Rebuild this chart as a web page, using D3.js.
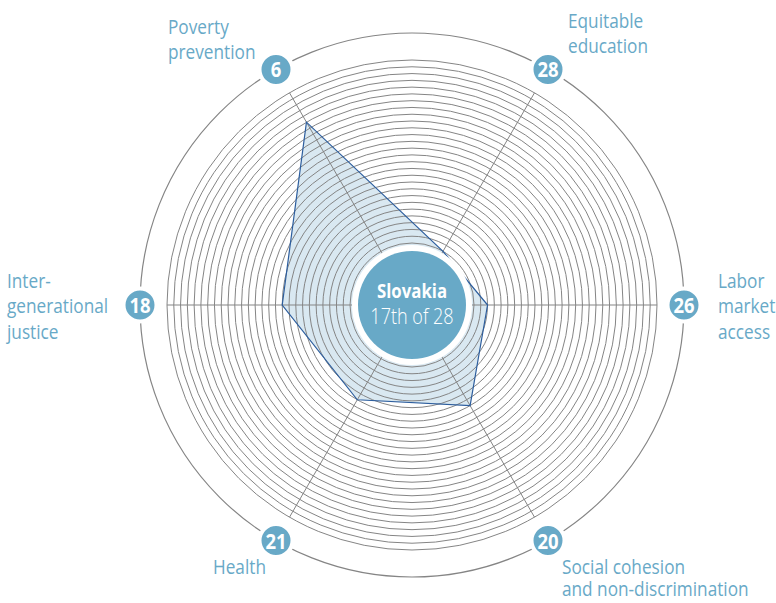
<!DOCTYPE html>
<html><head><meta charset="utf-8">
<script src="https://cdn.jsdelivr.net/npm/d3@7"></script>
<style>
html,body{margin:0;padding:0;background:#fff;}
svg{display:block;}
text{font-family:"Open Sans","Noto Sans",sans-serif;}
</style></head>
<body>
<svg id="chart" width="776" height="603"></svg>
<script>
// ---- data ----
const categories = ["Labor market access","Equitable education","Poverty prevention","Intergenerational justice","Health","Social cohesion and non-discrimination"];
const ranks = [26, 28, 6, 18, 21, 20];
const country = "Slovakia";
const overall = "17th of 28";
const totalCountries = 28;
const labelLines = [
  ["Labor","market","access"],
  ["Equitable","education"],
  ["Poverty","prevention"],
  ["Inter-","generational","justice"],
  ["Health"],
  ["Social cohesion","and non-discrimination"]
];
// ---- layout ----
const cx = 412, cy = 305;
const outerR = 272, innerR = 62, ringMaxR = 245, centerR = 54, whiteR = 60;
const angles = [0, -60, -120, 180, 120, 60];
const labelPos = [
  {x:718,y:288,lh:25.5},{x:568,y:28,lh:25.5},{x:168,y:34,lh:25.5},{x:7,y:288,lh:25.5},{x:213,y:574,lh:25},{x:562,y:574,lh:22.5}
];
const condense = 0.84;
const blue = "#68a9c7", ringCol = "#858585";

const svg = d3.select("#chart");
const g = svg.append("g").attr("transform",`translate(${cx},${cy})`);
const r = d3.scaleLinear().domain([totalCountries,1]).range([innerR,ringMaxR]);
const rad = a => a*Math.PI/180;

// polygon fill (beneath rings)
const pts = ranks.map((v,i)=>[r(v)*Math.cos(rad(angles[i])), r(v)*Math.sin(rad(angles[i]))]);
const line = d3.line().curve(d3.curveLinearClosed);
g.append("path").attr("d",line(pts)).attr("fill","#d9e8f1").attr("stroke","none");

// rings
g.selectAll("circle.ring").data(d3.range(1,totalCountries+1)).join("circle")
  .attr("class","ring").attr("r",d=>r(d)).attr("fill","none")
  .attr("stroke",ringCol).attr("stroke-width",1);
// outer
g.append("circle").attr("r",outerR).attr("fill","none").attr("stroke",ringCol).attr("stroke-width",1.2);
// axes
g.selectAll("line.axis").data(angles).join("line").attr("class","axis")
  .attr("x1",0).attr("y1",0)
  .attr("x2",a=>ringMaxR*Math.cos(rad(a))).attr("y2",a=>ringMaxR*Math.sin(rad(a)))
  .attr("stroke",ringCol).attr("stroke-width",1);
// polygon outline
g.append("path").attr("d",line(pts)).attr("fill","none").attr("stroke","#2d5e9e").attr("stroke-width",1.2);

// center
g.append("circle").attr("r",whiteR).attr("fill","#fff");
g.append("circle").attr("r",centerR).attr("fill",blue);
g.append("text").attr("transform",`translate(0,-7) scale(${condense},1)`).attr("text-anchor","middle").attr("fill","#fff")
  .attr("font-weight","bold").attr("font-size",20).text(country);
g.append("text").attr("transform",`translate(0,19) scale(${condense},1)`).attr("text-anchor","middle").attr("fill","#fff")
  .attr("font-size",21.5).attr("font-weight",300).text(overall);

// badges
const badges = g.selectAll("g.badge").data(ranks).join("g").attr("class","badge")
  .attr("transform",(d,i)=>`translate(${outerR*Math.cos(rad(angles[i]))},${outerR*Math.sin(rad(angles[i]))})`);
badges.append("circle").attr("r",16.5).attr("fill",blue).attr("stroke","#fff").attr("stroke-width",4);
badges.append("text").attr("transform",`translate(0,8) scale(${condense},1)`).attr("text-anchor","middle").attr("fill","#fff")
  .attr("font-weight","bold").attr("font-size",22).text(d=>d);

// labels
labelLines.forEach((lines,i)=>{
  const p = labelPos[i];
  const t = svg.append("text").attr("fill",blue).attr("font-size",20.5)
    .attr("transform",`translate(${p.x},${p.y}) scale(${condense},1)`);
  lines.forEach((s,j)=>t.append("tspan").attr("x",0).attr("y",j*p.lh).text(s));
});
</script>
</body></html>
